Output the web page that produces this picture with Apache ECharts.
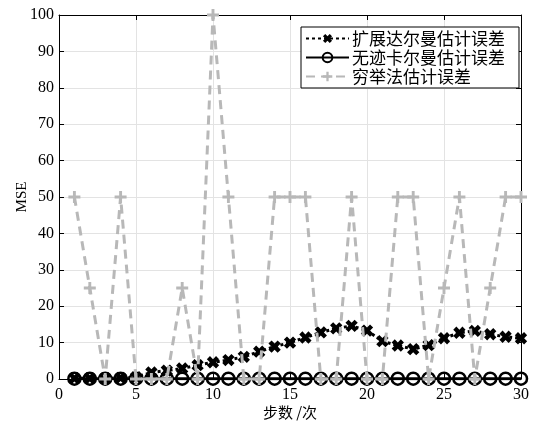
<!DOCTYPE html>
<html><head><meta charset="utf-8">
<script src="https://cdn.jsdelivr.net/npm/echarts@6/dist/echarts.min.js"></script>
<style>html,body{margin:0;padding:0;background:#fff}#c{width:535px;height:425px}</style>
</head><body><div id="c"></div>
<script>
const steps = [1,2,3,4,5,6,7,8,9,10,11,12,13,14,15,16,17,18,19,20,21,22,23,24,25,26,27,28,29,30];
const ekfErr = [0.2,0.2,0.2,0.3,0.5,1.8,2.3,2.9,3.8,4.6,5.2,6.1,7.5,8.9,10.0,11.4,12.8,13.9,14.6,13.3,10.4,9.2,8.2,9.3,11.2,12.7,13.2,12.3,11.6,11.2];
const ukfErr = [0.1,0.1,0.1,0.1,0.1,0.1,0.1,0.1,0.1,0.1,0.1,0.1,0.1,0.1,0.1,0.1,0.1,0.1,0.1,0.1,0.1,0.1,0.1,0.1,0.1,0.1,0.1,0.1,0.1,0.1];
const exhErr = [50,25,0,50,0,0,0,25,0,100,50,0,0,50,50,50,0,0,50,0,0,50,50,0,25,50,0,25,50,50];
const seriesNames = ['扩展达尔曼估计误差','无迹卡尔曼估计误差','穷举法估计误差'];
const xName = '步数 /次';
const yName = 'MSE';

const pair = (ys) => steps.map((x, i) => [x, ys[i]]);
const plusThin = 'path://M3.8,0L6.2,0L6.2,3.8L10,3.8L10,6.2L6.2,6.2L6.2,10L3.8,10L3.8,6.2L0,6.2L0,3.8L3.8,3.8Z';
const plusBold = 'path://M3.3,0L6.7,0L6.7,3.3L10,3.3L10,6.7L6.7,6.7L6.7,10L3.3,10L3.3,6.7L0,6.7L0,3.3L3.3,3.3Z';
const serif = '"Liberation Serif","DejaVu Serif",serif';
const cjk = '"Noto Sans CJK SC",sans-serif';

const chart = echarts.init(document.getElementById('c'), null, {renderer: 'canvas'});
const axisCommon = {
  type: 'value',
  axisLine: {show: true, onZero: false, lineStyle: {color: '#000', width: 1}},
  axisTick: {show: true, inside: true, length: 5, lineStyle: {color: '#000'}},
};
chart.setOption({
  animation: false,
  backgroundColor: '#fff',
  grid: {left: 59, right: 14, top: 15, bottom: 46, containLabel: false, outerBoundsMode: 'none'},
  xAxis: [
    Object.assign({}, axisCommon, {
      min: 0, max: 30, interval: 5, position: 'bottom',
      name: xName, nameLocation: 'middle', nameGap: 26, nameMoveOverlap: false,
      nameTextStyle: {fontFamily: cjk, fontSize: 15, color: '#000'},
      axisLabel: {fontFamily: serif, fontSize: 16, color: '#000', margin: 8},
      splitLine: {show: true, lineStyle: {color: '#e3e3e3', width: 1}}
    }),
    Object.assign({}, axisCommon, {
      min: 0, max: 30, interval: 5, position: 'top',
      axisLabel: {show: false}, splitLine: {show: false}
    })
  ],
  yAxis: [
    Object.assign({}, axisCommon, {
      min: 0, max: 100, interval: 10, position: 'left',
      name: yName, nameLocation: 'middle', nameGap: 29, nameRotate: 90, nameMoveOverlap: false,
      nameTextStyle: {fontFamily: serif, fontSize: 15, color: '#000'},
      axisLabel: {fontFamily: serif, fontSize: 16, color: '#000', margin: 5},
      splitLine: {show: true, lineStyle: {color: '#e3e3e3', width: 1}}
    }),
    Object.assign({}, axisCommon, {
      min: 0, max: 100, interval: 10, position: 'right',
      axisLabel: {show: false}, splitLine: {show: false}
    })
  ],
  legend: {
    orient: 'vertical', left: 301, top: 27,
    itemWidth: 43, itemHeight: 12, itemGap: 2,
    padding: [3, 14, 3, 4],
    borderColor: '#000', borderWidth: 1, borderRadius: 0,
    backgroundColor: '#fff',
    textStyle: {fontFamily: cjk, fontSize: 17, color: '#000', padding: [0,0,0,-2]},
    data: seriesNames
  },
  series: [
    {
      name: seriesNames[0], type: 'line', data: pair(ekfErr),
      symbol: plusBold, symbolSize: 13, symbolRotate: 45, symbolKeepAspect: true,
      lineStyle: {color: '#000', width: 3, type: [3, 3]},
      itemStyle: {color: '#000', borderWidth: 0},
      z: 3
    },
    {
      name: seriesNames[1], type: 'line', data: pair(ukfErr),
      symbol: 'circle', symbolSize: 12,
      lineStyle: {color: '#000', width: 3, type: 'solid'},
      itemStyle: {color: 'rgba(0,0,0,0)', borderColor: '#000', borderWidth: 2.5},
      z: 4
    },
    {
      name: seriesNames[2], type: 'line', data: pair(exhErr),
      symbol: plusThin, symbolSize: 12, symbolKeepAspect: true,
      lineStyle: {color: '#b8b8b8', width: 3, type: [9, 6]},
      itemStyle: {color: '#b8b8b8', borderWidth: 0},
      z: 5
    }
  ]
});
</script></body></html>
